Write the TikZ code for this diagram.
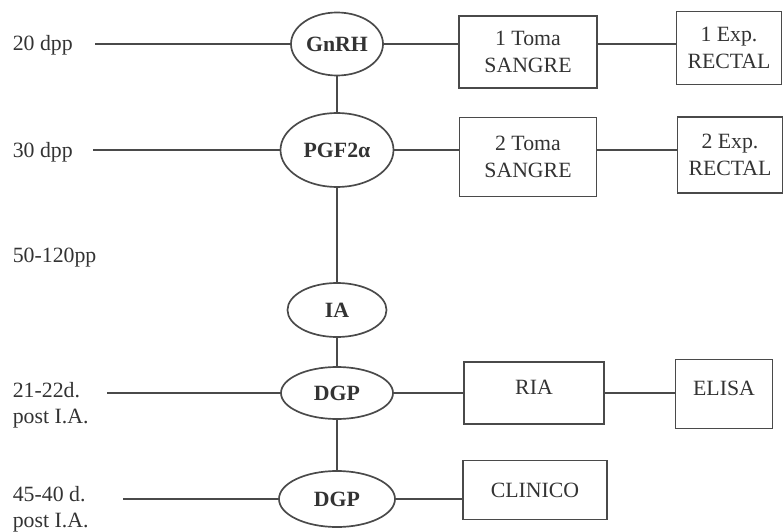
\documentclass[tikz,border=0pt]{standalone}
\usepackage{fontspec}
\setmainfont{Liberation Serif}
\usepackage{tikz}
\usetikzlibrary{shapes, positioning, calc}
\definecolor{ink}{HTML}{333333}
\definecolor{wire}{HTML}{4A4A4A}
\tikzset{
    stage/.style={
        ellipse,
        draw=wire,
        line width=1.2pt,
        inner sep=0pt,
        text=ink,
        font=\fontsize{15.5}{17}\selectfont\bfseries,
    },
    test/.style={
        rectangle,
        draw=wire,
        line width=1.2pt,
        inner sep=0pt,
        align=center,
        text=ink,
        font=\fontsize{15.5}{19.5}\selectfont,
    },
    day/.style={
        anchor=west,
        align=left,
        inner sep=0pt,
        text=ink,
        font=\fontsize{15.5}{18.5}\selectfont,
    },
}

\begin{document}
\begin{tikzpicture}[x=0.025cm,y=-0.025cm,line width=1.2pt,draw=wire]
          \useasboundingbox (0,0) rectangle (783,532);

          % time line
          \node [stage, minimum width=2.3cm, minimum height=1.575cm] (gnrh) at (337,44) {GnRH};
          \node [stage, minimum width=2.825cm, minimum height=1.85cm] (pgf) at (337,150) {PGF2α};
          \node [stage, minimum width=2.475cm, minimum height=1.35cm] (ia) at (337,310) {IA};
          \node [stage, minimum width=2.8cm, minimum height=1.3cm] (dgp1) at (337,393) {DGP};
          \node [stage, minimum width=2.9cm, minimum height=1.4cm] (dgp2) at (337,499) {DGP};

          % days
          \node [day] (d20) at (12,45) {20 dpp};
          \node [day] (d30) at (12,152) {30 dpp};
          \node [day] (d50) at (12,258) {50-120pp};
          \node [day] (d21) at (12,405) {21-22d.\\post I.A.};
          \node [day] (d45) at (12,509) {45-40 d.\\post I.A.};

          \coordinate (l20) at (95,44);
          \coordinate (l30) at (93,150);
          \coordinate (l21) at (107,393);
          \coordinate (l45) at (123,499);

          % tests
          \node [test, minimum width=3.45cm, minimum height=1.8cm] (tomaA) at (528,52) {1 Toma\\SANGRE};
          \node [test, minimum width=2.625cm, minimum height=1.825cm] (expA) at (729,48) {1 Exp.\\RECTAL};
          \node [test, minimum width=3.425cm, minimum height=1.975cm] (tomaB) at (528,157) {2 Toma\\SANGRE};
          \node [test, minimum width=2.625cm, minimum height=1.9cm] (expB) at (730,155) {2 Exp.\\RECTAL};
          \node [test, minimum width=3.5cm, minimum height=1.55cm, text depth=0.75em] (ria) at (534,393) {RIA};
          \node [test, minimum width=2.425cm, minimum height=1.725cm, text depth=0.85em] (elisa) at (724,394) {ELISA};
          \node [test, minimum width=3.6cm, minimum height=1.475cm] (clinico) at (535,490) {CLINICO};

          \draw (gnrh) -- (pgf) -- (ia) -- (dgp1) -- (dgp2);

          \draw (l20) -- (gnrh);
          \draw (l30) -- (pgf);
          \draw (l21) -- (dgp1);
          \draw (l45) -- (dgp2);

          \draw (gnrh) -- (gnrh -| tomaA.west);
          \draw (gnrh -| tomaA.east) -- (gnrh -| expA.west);
          \draw (pgf) -- (pgf -| tomaB.west);
          \draw (pgf -| tomaB.east) -- (pgf -| expB.west);
          \draw (dgp1) -- (dgp1 -| ria.west);
          \draw (dgp1 -| ria.east) -- (dgp1 -| elisa.west);
          \draw (dgp2) -- (dgp2 -| clinico.west);
        \end{tikzpicture}
\end{document}
